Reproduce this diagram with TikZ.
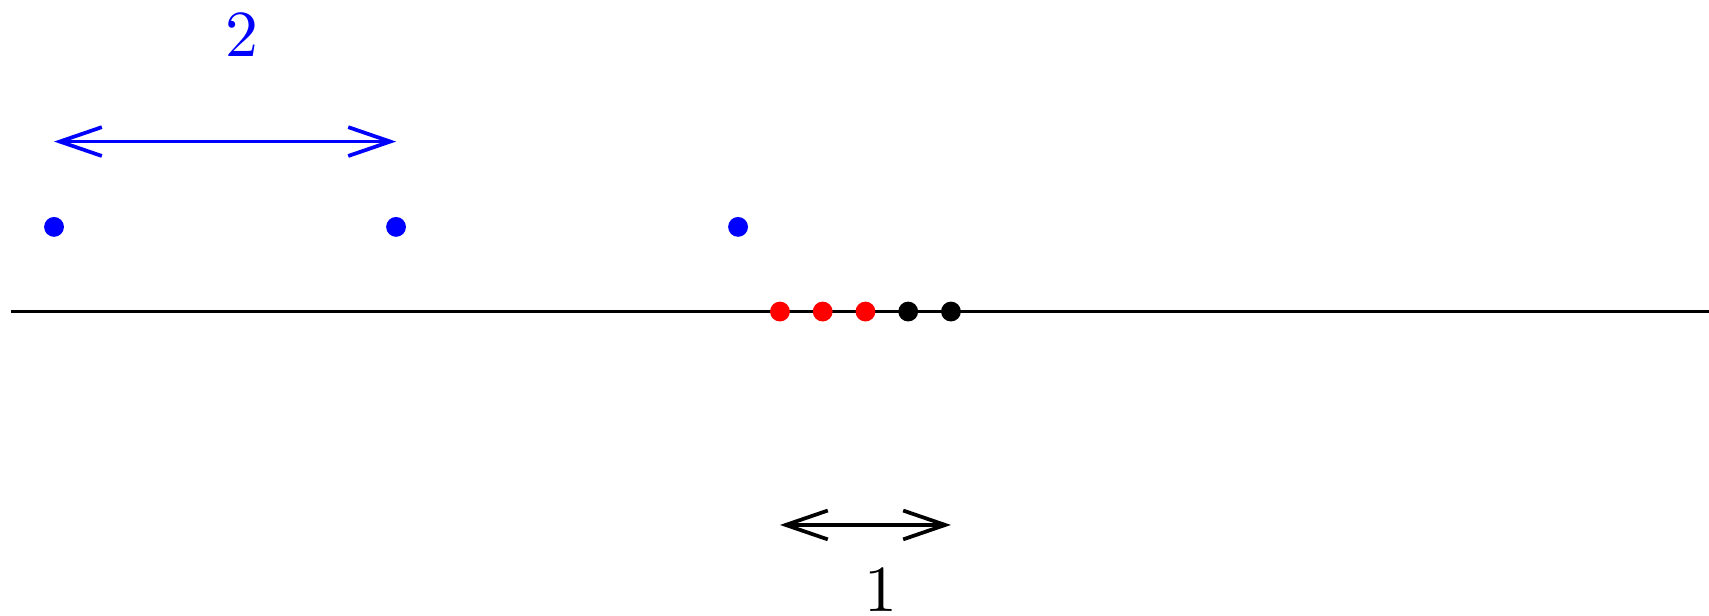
\documentclass[tikz,border=0pt]{standalone}
\usetikzlibrary{arrows.meta}
\definecolor{dblue}{RGB}{0,0,255}
\definecolor{dred}{RGB}{255,0,0}
\tikzset{
  dot/.style={circle,inner sep=0pt,minimum size=3.3pt,fill=#1},
  dimarrow/.style={line width=0.62pt,{Straight Barb[length=7pt,width=4.8pt,line width=0.62pt]}-{Straight Barb[length=7pt,width=4.8pt,line width=0.62pt]}},
  lbl/.style={font=\fontsize{11}{13}\selectfont,inner sep=0pt}
}
\begin{document}
\begin{tikzpicture}
\useasboundingbox (0,0) rectangle (9.994,3.602);
% axis
\coordinate (L) at (0.064,1.78);
\coordinate (R) at (9.994,1.78);
\draw[line width=0.65pt] (L) -- (R);
% blue dots
\node[dot=dblue] (b1) at (0.316,2.275) {};
\node[dot=dblue] (b2) at (2.316,2.275) {};
\node[dot=dblue] (b3) at (4.316,2.275) {};
% points on line
\node[dot=dred] (r1) at (4.561,1.78) {};
\node[dot=dred] (r2) at (4.811,1.78) {};
\node[dot=dred] (r3) at (5.061,1.78) {};
\node[dot=black] (k1) at (5.311,1.78) {};
\node[dot=black] (k2) at (5.561,1.78) {};
% top dimension arrow
\coordinate (ta) at (b1 |- 0,2.774);
\coordinate (tb) at (b2 |- 0,2.774);
\draw[dimarrow,dblue] (ta) -- (tb);
\node[lbl,text=dblue] (two) at (1.413,3.398) {$2$};
% bottom dimension arrow
\coordinate (ba) at (r1 |- 0,0.532);
\coordinate (bb) at (k2 |- 0,0.532);
\draw[dimarrow,black] (ba) -- (bb);
\node[lbl] (one) at (5.152,0.152) {$1$};
\end{tikzpicture}
\end{document}
